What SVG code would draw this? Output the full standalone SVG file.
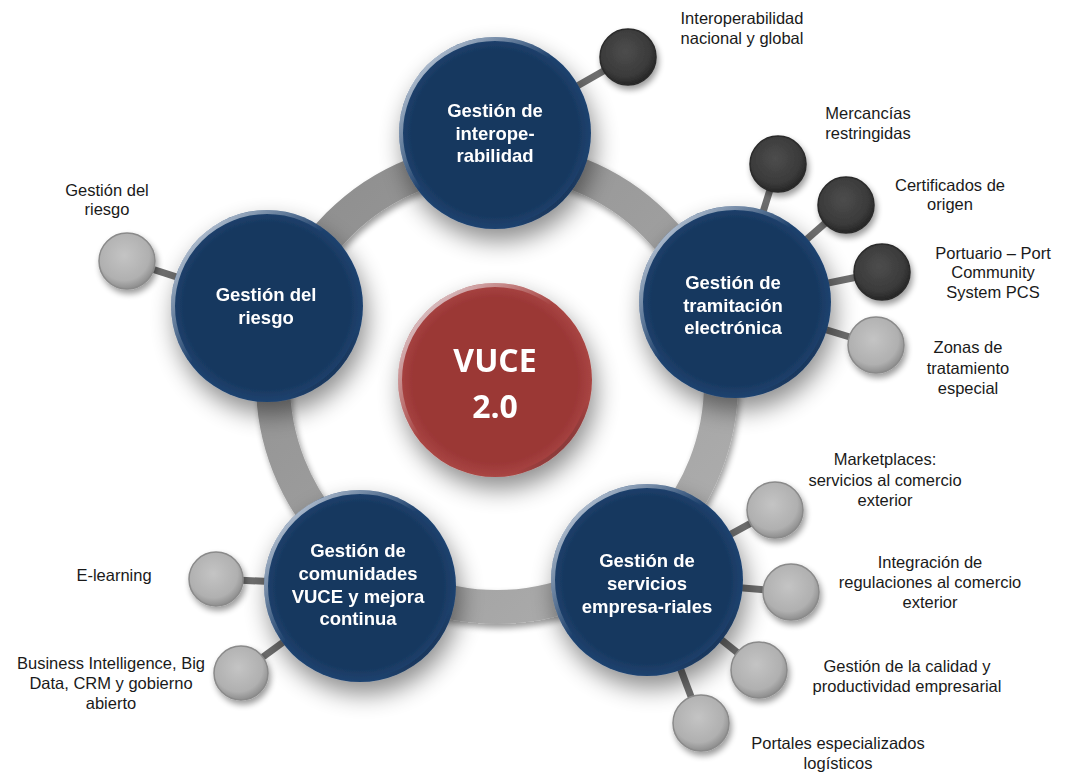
<svg xmlns="http://www.w3.org/2000/svg" width="1071" height="775" viewBox="0 0 1071 775">
<defs>
<style>
.main{fill:url(#blueFill);}
.rim{fill:none;stroke:url(#rimGrad);stroke-width:4;}
.mt{font-family:"Liberation Sans",Arial,sans-serif;font-weight:bold;font-size:18.5px;fill:#ffffff;text-anchor:middle;}
.ct{font-family:"Open Sans","Liberation Sans",sans-serif;font-weight:bold;font-size:32px;fill:#ffffff;text-anchor:middle;}
.lb{font-family:"Liberation Sans",Arial,sans-serif;font-size:16.5px;fill:#1a1a1a;text-anchor:middle;}
.dark{fill:url(#darkFill);stroke:#2a2a2a;stroke-width:1.5;}
.light{fill:url(#lightFill);stroke:#8a8a8a;stroke-width:1.5;}
.conn{stroke:#6e6e6e;stroke-width:7;}
</style>
<radialGradient id="blueFill" cx="0.5" cy="0.5" r="0.5">
<stop offset="0.85" stop-color="#17375e"/>
<stop offset="1" stop-color="#1f4370"/>
</radialGradient>
<radialGradient id="redFill" cx="0.5" cy="0.5" r="0.5">
<stop offset="0.85" stop-color="#9b3736"/>
<stop offset="1" stop-color="#a94644"/>
</radialGradient>
<linearGradient id="rimGrad" x1="0" y1="0" x2="1" y2="1">
<stop offset="0" stop-color="#e8eef6" stop-opacity="0.95"/>
<stop offset="0.45" stop-color="#ffffff" stop-opacity="0"/>
<stop offset="0.8" stop-color="#000000" stop-opacity="0"/>
<stop offset="1" stop-color="#0a1a30" stop-opacity="0.6"/>
</linearGradient>
<radialGradient id="darkFill" cx="0.45" cy="0.4" r="0.6">
<stop offset="0" stop-color="#4d4d4d"/>
<stop offset="0.75" stop-color="#3a3a3a"/>
<stop offset="1" stop-color="#262626"/>
</radialGradient>
<radialGradient id="lightFill" cx="0.45" cy="0.4" r="0.6">
<stop offset="0" stop-color="#c4c4c4"/>
<stop offset="0.75" stop-color="#b0b0b0"/>
<stop offset="1" stop-color="#8e8e8e"/>
</radialGradient>
<linearGradient id="ringGrad" x1="0" y1="0" x2="1" y2="1">
<stop offset="0" stop-color="#8c8c8c"/>
<stop offset="1" stop-color="#b0b0b0"/>
</linearGradient>
<filter id="shadow" x="-50%" y="-50%" width="200%" height="200%">
<feGaussianBlur in="SourceAlpha" stdDeviation="12"/>
<feOffset dx="4" dy="12" result="b"/>
<feComponentTransfer><feFuncA type="linear" slope="0.45"/></feComponentTransfer>
<feMerge><feMergeNode/><feMergeNode in="SourceGraphic"/></feMerge>
</filter>
<filter id="sshadow" x="-40%" y="-40%" width="180%" height="180%">
<feGaussianBlur in="SourceAlpha" stdDeviation="3"/>
<feOffset dx="2" dy="4" result="b"/>
<feComponentTransfer><feFuncA type="linear" slope="0.4"/></feComponentTransfer>
<feMerge><feMergeNode/><feMergeNode in="SourceGraphic"/></feMerge>
</filter>
</defs>
<rect width="1071" height="775" fill="#ffffff"/>

<g id="ring" filter="url(#sshadow)">
<circle cx="497" cy="383" r="224" fill="none" stroke="url(#ringGrad)" stroke-width="34"/>
</g>

<g id="connectors">
<line class="conn" x1="495" y1="133" x2="628" y2="57"/>
<line class="conn" x1="735" y1="302" x2="778" y2="164"/>
<line class="conn" x1="735" y1="302" x2="846" y2="205"/>
<line class="conn" x1="735" y1="302" x2="882" y2="272"/>
<line class="conn" x1="735" y1="302" x2="876" y2="345"/>
<line class="conn" x1="267" y1="306" x2="127" y2="261"/>
<line class="conn" x1="360" y1="586" x2="216" y2="579"/>
<line class="conn" x1="360" y1="586" x2="241" y2="673"/>
<line class="conn" x1="647" y1="580" x2="775" y2="510"/>
<line class="conn" x1="647" y1="580" x2="791" y2="592"/>
<line class="conn" x1="647" y1="580" x2="759" y2="670"/>
<line class="conn" x1="647" y1="580" x2="701" y2="723"/>
</g>

<g id="node-vuce" filter="url(#shadow)">
<circle cx="495" cy="380" r="97" fill="url(#redFill)"/>
<circle cx="495" cy="380" r="95" class="rim"/>
<text class="ct" x="495" y="372">VUCE</text>
<text class="ct" x="495" y="418">2.0</text>
</g>

<g id="node-interop" filter="url(#shadow)">
<circle cx="495" cy="133" r="96" class="main"/>
<circle cx="495" cy="133" r="94" class="rim"/>
<text class="mt" x="495" y="117">Gestión de</text>
<text class="mt" x="495" y="140">interope-</text>
<text class="mt" x="495" y="162">rabilidad</text>
</g>

<g id="node-tramitacion" filter="url(#shadow)">
<circle cx="735" cy="302" r="96" class="main"/>
<circle cx="735" cy="302" r="94" class="rim"/>
<text class="mt" x="733" y="289">Gestión de</text>
<text class="mt" x="733" y="312">tramitación</text>
<text class="mt" x="733" y="334">electrónica</text>
</g>

<g id="node-servicios" filter="url(#shadow)">
<circle cx="647" cy="580" r="96" class="main"/>
<circle cx="647" cy="580" r="94" class="rim"/>
<text class="mt" x="647" y="567">Gestión de</text>
<text class="mt" x="647" y="590">servicios</text>
<text class="mt" x="647" y="613">empresa-riales</text>
</g>

<g id="node-comunidades" filter="url(#shadow)">
<circle cx="360" cy="586" r="96" class="main"/>
<circle cx="360" cy="586" r="94" class="rim"/>
<text class="mt" x="358" y="557">Gestión de</text>
<text class="mt" x="358" y="580">comunidades</text>
<text class="mt" x="358" y="603">VUCE y mejora</text>
<text class="mt" x="358" y="625">continua</text>
</g>

<g id="node-riesgo" filter="url(#shadow)">
<circle cx="267" cy="306" r="96" class="main"/>
<circle cx="267" cy="306" r="94" class="rim"/>
<text class="mt" x="266" y="301">Gestión del</text>
<text class="mt" x="266" y="324">riesgo</text>
</g>

<g id="sat-interop">
<circle cx="628" cy="57" r="28" class="dark" filter="url(#sshadow)"/>
<text class="lb" x="742" y="24">Interoperabilidad</text>
<text class="lb" x="742" y="44">nacional y global</text>
</g>
<g id="sat-mercancias">
<circle cx="778" cy="164" r="28" class="dark" filter="url(#sshadow)"/>
<text class="lb" x="868" y="119">Mercancías</text>
<text class="lb" x="868" y="139">restringidas</text>
</g>
<g id="sat-certificados">
<circle cx="846" cy="205" r="28" class="dark" filter="url(#sshadow)"/>
<text class="lb" x="950" y="191">Certificados de</text>
<text class="lb" x="950" y="210">origen</text>
</g>
<g id="sat-portuario">
<circle cx="882" cy="272" r="28" class="dark" filter="url(#sshadow)"/>
<text class="lb" x="993" y="259">Portuario – Port</text>
<text class="lb" x="993" y="278">Community</text>
<text class="lb" x="993" y="298">System PCS</text>
</g>
<g id="sat-zonas">
<circle cx="876" cy="345" r="28" class="light" filter="url(#sshadow)"/>
<text class="lb" x="968" y="353">Zonas de</text>
<text class="lb" x="968" y="374">tratamiento</text>
<text class="lb" x="968" y="394">especial</text>
</g>
<g id="sat-riesgo">
<circle cx="127" cy="261" r="28" class="light" filter="url(#sshadow)"/>
<text class="lb" x="107" y="196">Gestión del</text>
<text class="lb" x="107" y="215">riesgo</text>
</g>
<g id="sat-elearning">
<circle cx="216" cy="579" r="27" class="light" filter="url(#sshadow)"/>
<text class="lb" x="114" y="581">E-learning</text>
</g>
<g id="sat-business">
<circle cx="241" cy="673" r="27" class="light" filter="url(#sshadow)"/>
<text class="lb" x="111" y="669">Business Intelligence, Big</text>
<text class="lb" x="111" y="689">Data, CRM y gobierno</text>
<text class="lb" x="111" y="709">abierto</text>
</g>
<g id="sat-marketplaces">
<circle cx="775" cy="510" r="28" class="light" filter="url(#sshadow)"/>
<text class="lb" x="885" y="465">Marketplaces:</text>
<text class="lb" x="885" y="486">servicios al comercio</text>
<text class="lb" x="885" y="506">exterior</text>
</g>
<g id="sat-integracion">
<circle cx="791" cy="592" r="28" class="light" filter="url(#sshadow)"/>
<text class="lb" x="930" y="568">Integración de</text>
<text class="lb" x="930" y="588">regulaciones al comercio</text>
<text class="lb" x="930" y="608">exterior</text>
</g>
<g id="sat-calidad">
<circle cx="759" cy="670" r="28" class="light" filter="url(#sshadow)"/>
<text class="lb" x="907" y="672">Gestión de la calidad y</text>
<text class="lb" x="907" y="692">productividad empresarial</text>
</g>
<g id="sat-portales">
<circle cx="701" cy="723" r="28" class="light" filter="url(#sshadow)"/>
<text class="lb" x="838" y="749">Portales especializados</text>
<text class="lb" x="838" y="769">logísticos</text>
</g>
</svg>
